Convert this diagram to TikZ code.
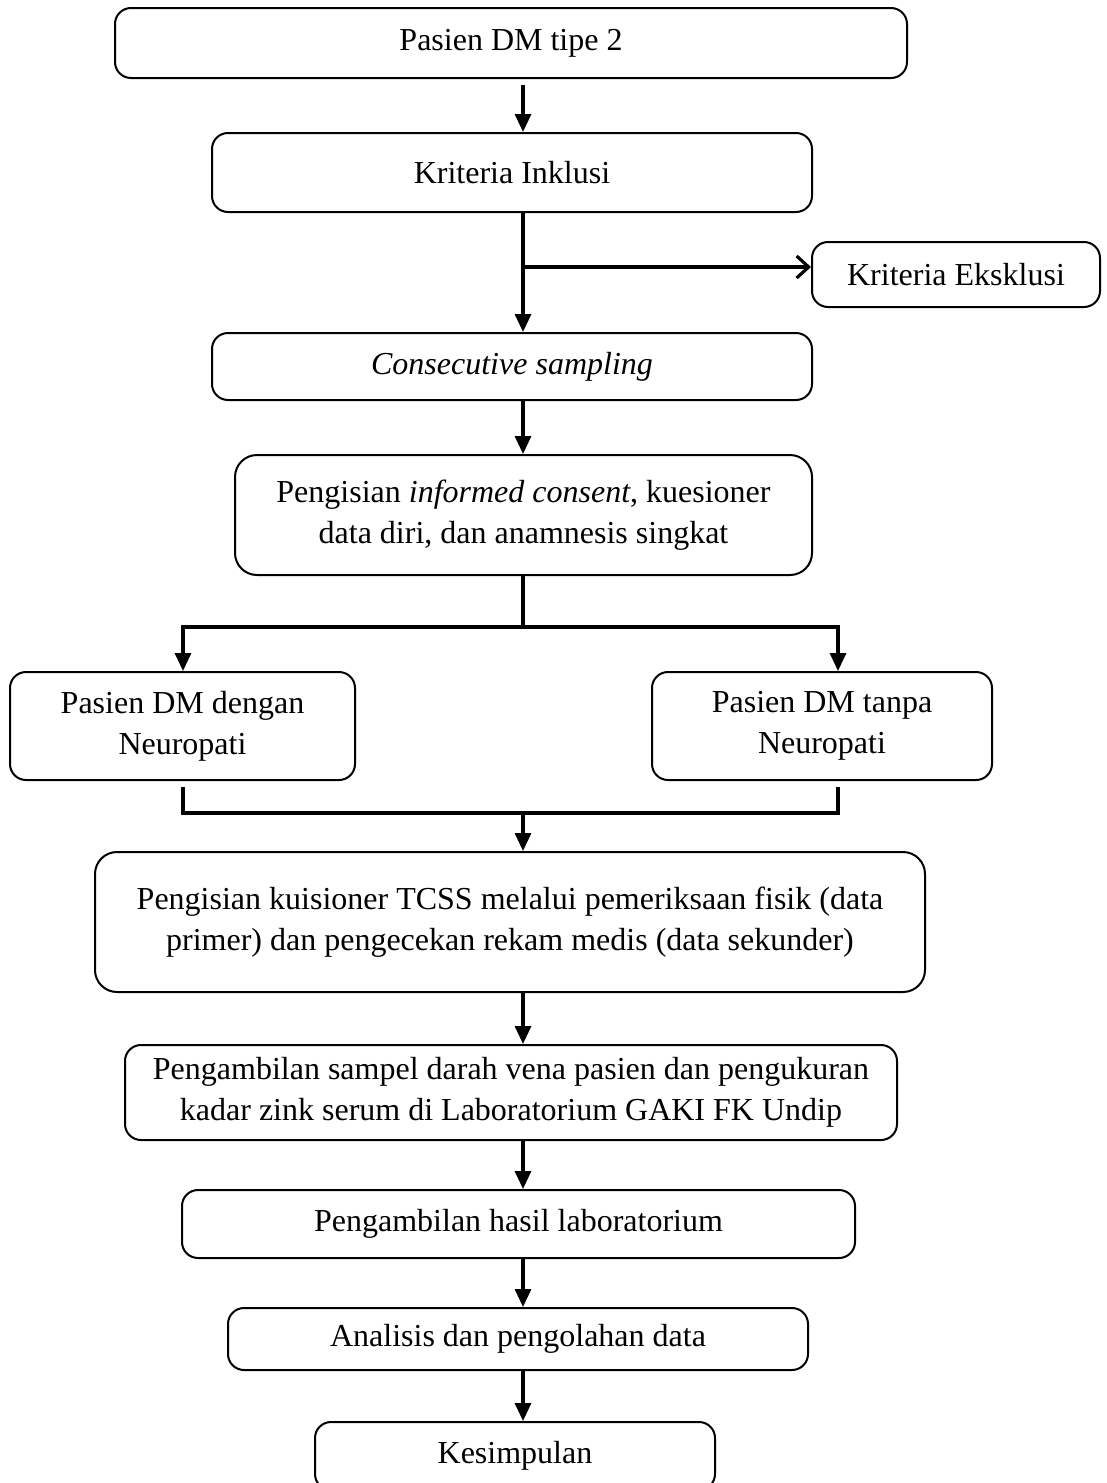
\documentclass[tikz,border=0pt]{standalone}
\usepackage{fontspec}
\setmainfont{Liberation Serif}
\usetikzlibrary{arrows.meta}
\begin{document}
\begin{tikzpicture}[x=0.5pt,y=-0.5pt,
  box/.style={draw, line width=1pt, rounded corners=8pt, align=center, inner sep=0pt,
    font=\fontsize{16}{20.5}\selectfont},
  arr/.style={line width=1.6pt, -{Triangle[length=9pt,width=8pt]}},
  ln/.style={line width=1.6pt},
  thk/.style={line width=2.2pt},
  barb/.style={line width=1.6pt, -{Straight Barb[length=6pt,width=11pt,line width=1.6pt]}}]
\useasboundingbox (0,0) rectangle (1107,1483);
\coordinate (t) at (523,0);
\node[box, minimum width=396pt, minimum height=35pt] (b1) at (511,43) {Pasien DM tipe 2};
\node[box, minimum width=300pt, minimum height=39.5pt] (b2) at (512,172.5) {Kriteria Inklusi};
\node[box, minimum width=144pt, minimum height=32.5pt] (b3) at (956,274.5) {Kriteria Eksklusi};
\node[box, minimum width=300pt, minimum height=33.5pt] (b4) at (512,366.5) {\textit{Consecutive sampling}};
\node[box, minimum width=288.5pt, minimum height=60pt, rounded corners=11pt] (b5) at (523.5,515) {Pengisian \textit{informed consent}, kuesioner\\data diri, dan anamnesis singkat};
\node[box, minimum width=172.5pt, minimum height=54pt] (b6) at (182.5,726) {Pasien DM dengan\\Neuropati};
\node[box, minimum width=170pt, minimum height=54pt] (b7) at (822,726) {Pasien DM tanpa\\Neuropati};
\node[box, minimum width=415pt, minimum height=70pt, rounded corners=11pt] (b8) at (510,922) {Pengisian kuisioner TCSS melalui pemeriksaan fisik (data\\primer) dan pengecekan rekam medis (data sekunder)};
\node[box, minimum width=386pt, minimum height=47.5pt] (b9) at (511,1092.5) {Pengambilan sampel darah vena pasien dan pengukuran\\kadar zink serum di Laboratorium GAKI FK Undip};
\node[box, minimum width=336.5pt, minimum height=34pt] (b10) at (518.5,1224) {Pengambilan hasil laboratorium};
\node[box, minimum width=290pt, minimum height=31pt] (b11) at (518,1339) {Analisis dan pengolahan data};
\node[box, minimum width=200pt, minimum height=34pt] (b12) at (515,1456) {Kesimpulan};

\coordinate (l) at (183,0);
\coordinate (r) at (838,0);
\coordinate (s1) at (523,267);
\coordinate (s2) at (523,627);
\coordinate (s3) at (523,813);

\draw[arr] ([yshift=-3pt]b1.south -| t) -- (b2.north -| t);
\draw[ln] (b2.south -| t) -- (s1);
\draw[arr] (s1) -- (b4.north -| t);
\draw[barb] (s1) -- (s1 -| b3.west);
\draw[arr] (b4.south -| t) -- (b5.north -| t);
\draw[ln] (b5.south -| t) -- (s2);
\draw[thk] (s2 -| l) -- (s2 -| r);
\draw[arr] ([yshift=1pt]s2 -| l) -- (b6.north -| l);
\draw[arr] ([yshift=1pt]s2 -| r) -- (b7.north -| r);
\draw[thk] ([yshift=-3pt]b6.south -| l) -- (s3 -| l) -- (s3 -| r) -- ([yshift=-3pt]b7.south -| r);
\draw[arr] (s3) -- (b8.north -| t);
\draw[arr] (b8.south -| t) -- (b9.north -| t);
\draw[arr] (b9.south -| t) -- (b10.north -| t);
\draw[arr] (b10.south -| t) -- (b11.north -| t);
\draw[arr] (b11.south -| t) -- (b12.north -| t);
\end{tikzpicture}
\end{document}
